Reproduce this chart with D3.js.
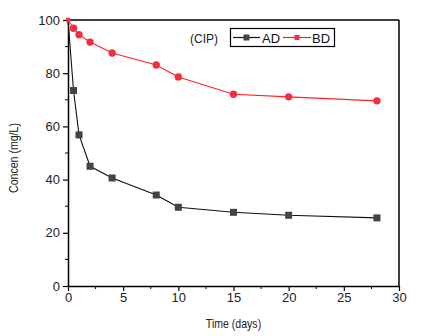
<!DOCTYPE html>
<html lang="en">
<head>
  <meta charset="UTF-8">
  <title>CIP concentration</title>
  <script src="https://d3js.org/d3.v7.min.js"></script>
  <style>
    body { margin: 0; background-color: white; }
    svg { display: block; font-family: Arial, "Liberation Sans", sans-serif; }
    .tick text { font-size: 13px; fill: #222; }
    .axislabel { font-family: Arial, "Liberation Sans", sans-serif; font-size: 12px; fill: #222; }
  </style>
</head>
<body>
<svg id="svg"></svg>
<script>
// data
const days = [0, 0.5, 1, 2, 4, 8, 10, 15, 20, 28];
const adValues = [100, 73.5, 56.8, 45, 40.6, 34.2, 29.6, 27.7, 26.6, 25.6];
const bdValues = [100, 96.9, 94.5, 91.7, 87.6, 83.1, 78.6, 72.1, 71.1, 69.6];
const xTicks = [0, 5, 10, 15, 20, 25, 30];
const yTicks = [0, 20, 40, 60, 80, 100];

const width = 423, height = 336;
const margin = {left: 68, right: 24, top: 20, bottom: 50};

const svg = d3.select("#svg").attr("width", width).attr("height", height);

var x = d3.scaleLinear().domain([0, 30]).range([margin.left, width - margin.right]);
var y = d3.scaleLinear().domain([0, 100]).range([height - margin.bottom, margin.top]);

// minor ticks
const xMinor = d3.range(0, 30, 2.5).filter(v => v % 5 != 0);
const yMinor = d3.range(10, 100, 20);
svg.append("g").selectAll("line").data(xMinor).join("line")
  .attr("x1", d => x(d)).attr("x2", d => x(d))
  .attr("y1", y(0)).attr("y2", y(0) + 3)
  .attr("stroke", "black");
svg.append("g").selectAll("line").data(yMinor).join("line")
  .attr("y1", d => y(d)).attr("y2", d => y(d))
  .attr("x1", x(0)).attr("x2", x(0) - 3)
  .attr("stroke", "black");

// axes
const xAxis = svg.append("g")
  .attr("transform", `translate(0,${y(0)})`)
  .call(d3.axisBottom(x).tickValues(xTicks).tickSize(5).tickPadding(2).tickSizeOuter(0));
const yAxis = svg.append("g")
  .attr("transform", `translate(${x(0)},0)`)
  .call(d3.axisLeft(y).tickValues(yTicks).tickSize(5).tickPadding(3).tickSizeOuter(0));
svg.selectAll(".domain").attr("stroke-width", 1.5);
svg.selectAll(".tick line").attr("stroke-width", 1.2);
svg.selectAll(".tick text").attr("font-family", "Arial, 'Liberation Sans', sans-serif");

// frame top and right
svg.append("line").attr("x1", x(0)).attr("x2", x(30)).attr("y1", y(100)).attr("y2", y(100))
  .attr("stroke", "black").attr("stroke-width", 1.5);
svg.append("line").attr("x1", x(30)).attr("x2", x(30)).attr("y1", y(100)).attr("y2", y(0))
  .attr("stroke", "black").attr("stroke-width", 1.5);

// series
const series = [
  {name: "AD", values: adValues, color: "#111", marker: "#444", shape: "square"},
  {name: "BD", values: bdValues, color: "#ff2020", marker: "#f03040", shape: "circle"}
];

const line = d3.line().x(d => x(d[0])).y(d => y(d[1]));

function drawMarker(g, shape, color, cx, cy, r) {
  if (shape == "square") {
    g.append("rect").attr("x", cx - r).attr("y", cy - r)
      .attr("width", 2 * r).attr("height", 2 * r).attr("fill", color);
  } else {
    g.append("circle").attr("cx", cx).attr("cy", cy).attr("r", r).attr("fill", color);
  }
}

series.forEach(s => {
  const pts = days.map((d, i) => [d, s.values[i]]);
  svg.append("path").datum(pts)
    .attr("fill", "none").attr("stroke", s.color).attr("stroke-width", 1.1)
    .attr("d", line);
  const g = svg.append("g");
  pts.forEach((p, i) => {
    // the shared start point only shows a small red dot
    if (i == 0) {
      if (s.shape == "circle") drawMarker(g, s.shape, s.marker, x(p[0]), y(p[1]), 2.5);
    } else {
      drawMarker(g, s.shape, s.marker, x(p[0]), y(p[1]), s.shape == "square" ? 3.5 : 3.7);
    }
  });
});

// legend
svg.append("text").attr("x", 190).attr("y", 43)
  .attr("font-size", 12).attr("fill", "#222").text("(CIP)");
svg.append("rect").attr("x", 230.5).attr("y", 28.5).attr("width", 104).attr("height", 18)
  .attr("fill", "white").attr("stroke", "black").attr("stroke-width", 1.2);
const lg = svg.append("g");
lg.append("line").attr("x1", 233).attr("x2", 260).attr("y1", 37.5).attr("y2", 37.5)
  .attr("stroke", "#111").attr("stroke-width", 1.2);
drawMarker(lg, "square", "#444", 246.5, 37.5, 3);
lg.append("text").attr("x", 262).attr("y", 42.5).attr("font-size", 13).attr("fill", "#111").text("AD");
lg.append("line").attr("x1", 283).attr("x2", 311).attr("y1", 37.5).attr("y2", 37.5)
  .attr("stroke", "#ff2020").attr("stroke-width", 1.2);
drawMarker(lg, "square", "#f03040", 297, 37.5, 2.5);
lg.append("text").attr("x", 312).attr("y", 42.5).attr("font-size", 13).attr("fill", "#111").text("BD");

// axis labels, narrow like the original
svg.append("text").attr("class", "axislabel")
  .attr("transform", `translate(${x(15)},328) scale(0.88,1)`)
  .attr("text-anchor", "middle").text("Time (days)");
svg.append("text").attr("class", "axislabel")
  .attr("transform", `translate(18,158) rotate(-90) scale(0.88,1)`)
  .attr("text-anchor", "middle").text("Concen (mg/L)");
</script>
</body>
</html>
